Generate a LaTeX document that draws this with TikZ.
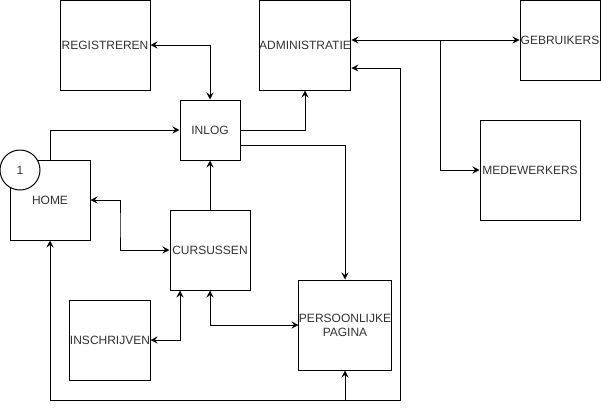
\documentclass[tikz,border=0pt]{standalone}
\usepackage{fontspec}
\setmainfont{Liberation Sans}
\usetikzlibrary{arrows.meta}
\begin{document}
\begin{tikzpicture}[x=1pt,y=-1pt,
  box/.style={draw=black,line width=1pt,fill=white,inner sep=0pt,text=black!80,font=\fontsize{12pt}{14pt}\selectfont,align=center},
  conn/.style={draw=black,line width=1pt,arrows={-}},
  tip/.tip={Stealth[length=7pt,width=7pt,inset=2.5pt]}]
\useasboundingbox (0,0) rectangle (601,410);
\node[box,minimum width=90pt,minimum height=90pt] (reg) at (105,45) {REGISTREREN};
\node[box,minimum width=90pt,minimum height=90pt] (admin) at (305,45) {ADMINISTRATIE};
\node[box,minimum width=80pt,minimum height=80pt] (geb) at (560,40) {GEBRUIKERS};
\node[box,minimum width=60pt,minimum height=60pt] (inlog) at (210,130) {INLOG};
\node[box,minimum width=80pt,minimum height=80pt] (home) at (50,200) {HOME};
\node[box,circle,minimum size=40pt] (one) at (20,170) {1};
\node[box,minimum width=80pt,minimum height=80pt] (curs) at (210,250) {CURSUSSEN};
\node[box,minimum width=100pt,minimum height=100pt] (mede) at (530,170) {MEDEWERKERS};
\node[box,minimum width=80pt,minimum height=80pt] (insch) at (110,340) {INSCHRIJVEN};
\node[box,minimum width=90pt,minimum height=90pt] (pp) at (345,325) {PERSOONLIJKE\\PAGINA};
\coordinate (split) at (440,40);
\coordinate (br) at (400,400);
\draw[conn,{tip}-{tip}] (reg.east) -| (inlog.north);
\draw[conn,-{tip}] (home.north) |- (inlog.west);
\draw[conn,-{tip}] (inlog.east) -| (admin.south);
\draw[conn,-{tip}] ([yshift=-15pt]inlog.east) -| (pp.north);
\draw[conn,{tip}-{tip}] ([yshift=5pt]admin.east) -- (geb.west);
\draw[conn,-{tip}] (split) |- (mede.west);
\draw[conn,{tip}-{tip}] ([yshift=-23pt]admin.east) -| (br) -| (home.south);
\draw[conn,-{tip}] (pp.south |- br) -- (pp.south);
\draw[conn,-{tip}] (curs.north) -- (inlog.south);
\draw[conn,{tip}-{tip}] (home.east) -| (120,225) |- (curs.west);
\draw[conn,{tip}-{tip}] ([xshift=-30pt]curs.south) |- (insch.east);
\draw[conn,{tip}-{tip}] (curs.south) |- (pp.west);
\end{tikzpicture}
\end{document}
